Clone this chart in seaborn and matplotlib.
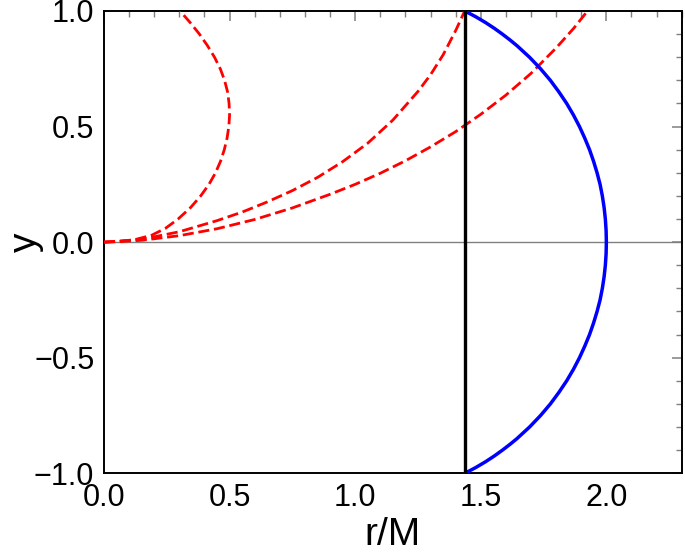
import matplotlib
matplotlib.use("Agg")
import matplotlib.pyplot as plt
import seaborn as sns
import pandas as pd
from matplotlib.ticker import MultipleLocator, FuncFormatter

# ---- data ----
# blue solid curve (r/M as a function of y)
ergo_y = [-1.0, -0.99, -0.975, -0.95, -0.925, -0.9, -0.875, -0.85, -0.8, -0.75, -0.7, -0.65, -0.6, -0.55,
          -0.5, -0.45, -0.4, -0.35, -0.3, -0.25, -0.2, -0.15, -0.1, -0.05, 0.0,
          0.05, 0.1, 0.15, 0.2, 0.25, 0.3, 0.35, 0.4, 0.45, 0.5, 0.55, 0.6, 0.65, 0.7, 0.75, 0.8,
          0.85, 0.875, 0.9, 0.925, 0.95, 0.975, 0.99, 1.0]
ergo_r = [1.436, 1.454, 1.480, 1.519, 1.554, 1.586, 1.616, 1.644, 1.694, 1.738, 1.777, 1.811, 1.842, 1.869,
          1.893, 1.914, 1.933, 1.949, 1.963, 1.975, 1.984, 1.991, 1.996, 1.999, 2.000,
          1.999, 1.996, 1.991, 1.984, 1.975, 1.963, 1.949, 1.933, 1.914, 1.893, 1.869, 1.842, 1.811, 1.777, 1.738, 1.694,
          1.644, 1.616, 1.586, 1.554, 1.519, 1.480, 1.454, 1.436]

# black vertical line
horizon_r = [1.436, 1.436]
horizon_y = [-1.0, 1.0]

# red dashed loop
loop_y = [0, 0.0025, 0.01, 0.03, 0.06, 0.1, 0.15, 0.2, 0.25, 0.3, 0.35, 0.4, 0.45, 0.5,
          0.55, 0.6, 0.65, 0.7, 0.75, 0.8, 0.85, 0.9, 0.95, 1.0]
loop_r = [0, 0.06, 0.12, 0.19, 0.245, 0.295, 0.345, 0.385, 0.418, 0.444, 0.464, 0.479, 0.49, 0.497,
          0.5, 0.498, 0.492, 0.48, 0.463, 0.44, 0.412, 0.38, 0.343, 0.303]

# red dashed middle curve
mid_r = [0, 0.15, 0.3, 0.45, 0.55, 0.65, 0.75, 0.85, 0.95, 1.05, 1.15, 1.25, 1.30, 1.35, 1.40, 1.436]
mid_y = [0, 0.012, 0.045, 0.093, 0.13, 0.174, 0.223, 0.28, 0.348, 0.428, 0.528, 0.652, 0.724, 0.81, 0.915, 1.0]

# red dashed outer curve
outer_r = [0, 0.15, 0.3, 0.45, 0.6, 0.75, 0.9, 1.0, 1.1, 1.2, 1.3, 1.4, 1.5, 1.6, 1.7, 1.8, 1.87, 1.925]
outer_y = [0, 0.008, 0.028, 0.058, 0.098, 0.148, 0.207, 0.25, 0.298, 0.352, 0.412, 0.478, 0.553, 0.636,
           0.73, 0.84, 0.925, 1.0]

x_ticks = [0.0, 0.5, 1.0, 1.5, 2.0]
y_ticks = [-1.0, -0.5, 0.0, 0.5, 1.0]

# ---- style ----
sns.set_theme(style="white")
plt.rcParams['font.family'] = ['Liberation Sans', 'DejaVu Sans']
plt.rcParams['text.color'] = 'black'
plt.rcParams['axes.labelcolor'] = 'black'

fig = plt.figure(figsize=(6.85, 5.55), dpi=100)
ax = fig.add_axes([0.1518, 0.1472, 0.8434, 0.833])

red_dash = (0, (4.0, 1.7))
for rr, yy in [(loop_r, loop_y), (mid_r, mid_y), (outer_r, outer_y)]:
    df = pd.DataFrame({"r": rr, "y": yy})
    sns.lineplot(data=df, x="r", y="y", sort=False, estimator=None, ax=ax,
                 color="#ff0000", linewidth=2.0, linestyle=red_dash, zorder=3)

df_e = pd.DataFrame({"r": ergo_r, "y": ergo_y})
sns.lineplot(data=df_e, x="r", y="y", sort=False, estimator=None, ax=ax,
             color="#0000ff", linewidth=2.5, zorder=4)

df_h = pd.DataFrame({"r": horizon_r, "y": horizon_y})
sns.lineplot(data=df_h, x="r", y="y", sort=False, estimator=None, ax=ax,
             color="black", linewidth=2.4, zorder=5)

ax.axhline(0, color="#808080", linewidth=1.0, zorder=2)

ax.set_xlim(0, 2.3)
ax.set_ylim(-1, 1)
ax.set_xticks(x_ticks)
ax.set_yticks(y_ticks)
ax.xaxis.set_minor_locator(MultipleLocator(0.1))
ax.yaxis.set_minor_locator(MultipleLocator(0.1))
fmt = FuncFormatter(lambda v, p: f"{v:.1f}".replace("-", "\u2212"))
ax.xaxis.set_major_formatter(fmt)
ax.yaxis.set_major_formatter(fmt)

ax.tick_params(which='both', direction='in', top=True, right=True,
               color='#808080', labelcolor='black', labelsize=22)
ax.tick_params(which='major', length=7, width=1.1, pad=7)
ax.tick_params(which='minor', length=4, width=1.0)

for s in ax.spines.values():
    s.set_color('black')
    s.set_linewidth(1.4)
    s.set_visible(True)

ax.set_xlabel("r/M", fontsize=28, labelpad=3)
ax.set_ylabel("y", fontsize=28, labelpad=-7)

fig.savefig("out.png", dpi=100)
